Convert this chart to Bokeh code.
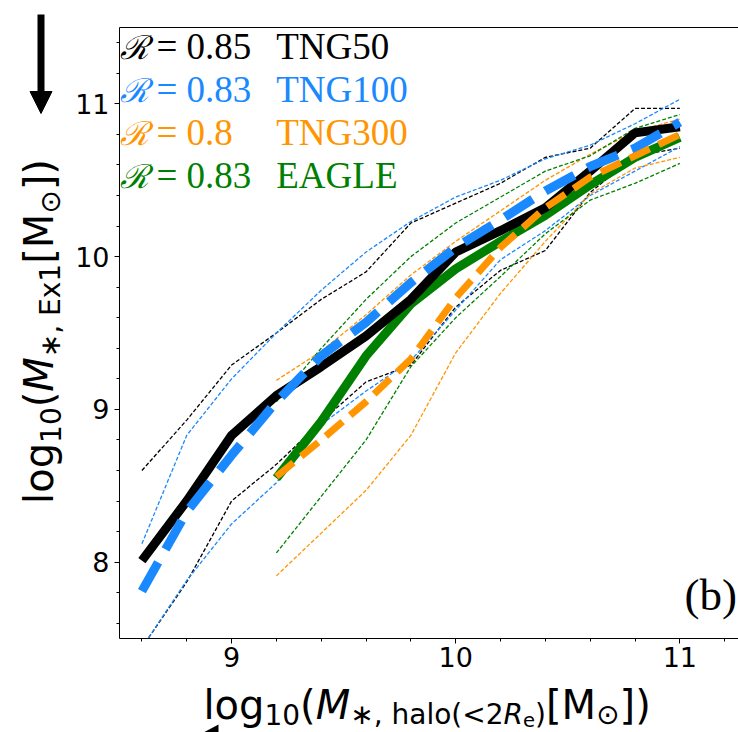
import math
from bokeh.plotting import figure
from bokeh.layouts import row, column
from bokeh.models import (Label, Arrow, NormalHead, LinearAxis, SingleIntervalTicker, FixedTicker,
                          Range1d, PolyAnnotation)
from bokeh.embed import file_html
from bokeh.resources import INLINE
from bokeh.core.properties import value

# ---------------- data ----------------
x_tng = [8.6, 8.8, 9.0, 9.2, 9.4, 9.6, 9.8, 10.0, 10.2, 10.4, 10.6, 10.8, 11.0]
x_hi = [9.2, 9.4, 9.6, 9.8, 10.0, 10.2, 10.4, 10.6, 10.8, 11.0]

tng50_med = [8.01, 8.40, 8.83, 9.09, 9.28, 9.48, 9.72, 10.03, 10.17, 10.32, 10.56, 10.81, 10.85]
tng50_up = [8.60, 8.93, 9.29, 9.50, 9.72, 9.90, 10.22, 10.35, 10.48, 10.65, 10.71, 10.97, 10.97]
tng50_lo = [7.44, 7.87, 8.40, 8.64, 8.92, 9.18, 9.29, 9.67, 9.91, 10.04, 10.42, 10.66, 10.71]

tng100_med = [7.81, 8.33, 8.70, 9.05, 9.35, 9.57, 9.83, 10.06, 10.24, 10.43, 10.59, 10.71, 10.88]
tng100_up = [8.12, 8.83, 9.20, 9.50, 9.78, 10.03, 10.23, 10.39, 10.50, 10.64, 10.73, 10.87, 11.03]
tng100_lo = [7.44, 7.88, 8.25, 8.52, 8.90, 9.12, 9.32, 9.65, 9.98, 10.17, 10.40, 10.56, 10.72]

tng300_med = [8.56, 8.80, 9.05, 9.33, 9.73, 10.06, 10.32, 10.52, 10.66, 10.80]
tng300_up = [9.19, 9.38, 9.62, 9.88, 10.10, 10.30, 10.50, 10.67, 10.82, 10.90]
tng300_lo = [7.91, 8.19, 8.47, 8.83, 9.37, 9.76, 10.10, 10.41, 10.58, 10.65]

eagle_med = [8.55, 8.92, 9.35, 9.69, 9.92, 10.10, 10.27, 10.47, 10.65, 10.78]
eagle_up = [9.05, 9.40, 9.72, 10.00, 10.22, 10.39, 10.56, 10.66, 10.84, 10.93]
eagle_lo = [8.06, 8.43, 8.80, 9.28, 9.60, 9.87, 10.15, 10.37, 10.48, 10.61]

sim_names = ["TNG50", "TNG100", "TNG300", "EAGLE"]
corr_labels = ["0.85", "0.83", "0.8", "0.83"]
sim_colors = ["black", "#1A88FF", "#FF9500", "green"]

# ---------------- layout constants (page px) ----------------
LW = 72            # left strip width
MH = 678           # main/left height
BH = 732 - MH      # bottom strip height
MW = 738 - LW      # main figure width
FRAME_L, FRAME_T, FRAME_B = 118, 27, 638
SX = 224.5
X0 = 8.5
X1 = X0 + (738 - FRAME_L) / SX
Y0, Y1 = 7.5, 11.5
SY = (FRAME_B - FRAME_T) / (Y1 - Y0)
KB = 0.3           # empirical baseline correction (em)

def mx(px):
    return X0 + (px - FRAME_L) / SX

def my(py):
    return Y0 + (FRAME_B - py) / SY

# ---------------- main figure ----------------
p = figure(width=MW, height=MH, x_range=Range1d(X0, X1), y_range=Range1d(Y0, Y1),
           output_backend="svg", toolbar_location=None,
           min_border_left=FRAME_L - LW, min_border_right=0, min_border_top=FRAME_T,
           min_border_bottom=MH - FRAME_B)
p.xgrid.visible = False
p.ygrid.visible = False
p.outline_line_color = None

for ax in (p.xaxis[0], p.yaxis[0]):
    ax.ticker = SingleIntervalTicker(interval=1, num_minor_ticks=5)
    ax.axis_line_color = "black"
    ax.major_tick_in = 0
    ax.major_tick_out = 5
    ax.minor_tick_in = 0
    ax.minor_tick_out = 3
    ax.major_tick_line_color = "black"
    ax.minor_tick_line_color = "black"
    ax.major_label_text_font = "DejaVu Sans"
    ax.major_label_text_font_size = "27px"
    ax.major_label_text_color = "black"
    ax.axis_label = None
p.yaxis[0].major_label_standoff = 5
p.xaxis[0].major_label_standoff = 3

top = LinearAxis(ticker=FixedTicker(ticks=[]), axis_line_color="black",
                 major_tick_line_color=None, minor_tick_line_color=None)
p.add_layout(top, "above")

thin_dash = "4 2"
thin_w = 1.3
bands = [
    (x_tng, tng50_up, tng50_lo, sim_colors[0]),
    (x_tng, tng100_up, tng100_lo, sim_colors[1]),
    (x_hi, tng300_up, tng300_lo, sim_colors[2]),
    (x_hi, eagle_up, eagle_lo, sim_colors[3]),
]
for xs, up, lo, c in bands:
    p.line(xs, up, line_color=c, line_width=thin_w, line_dash=thin_dash)
    p.line(xs, lo, line_color=c, line_width=thin_w, line_dash=thin_dash)

p.line(x_hi, eagle_med, line_color=sim_colors[3], line_width=9)
p.line(x_tng, tng50_med, line_color=sim_colors[0], line_width=9)
p.line(x_tng, tng100_med, line_color=sim_colors[1], line_width=9, line_dash="33 15")
p.line(x_hi, tng300_med, line_color=sim_colors[2], line_width=7, line_dash="22 10")

p.text(x=[mx(684)], y=[my(608 - KB * 45)], text=["(b)"], text_font=value("Liberation Serif"),
       text_font_size="45px", text_color="black", text_baseline="alphabetic", text_align="left")

baselines = [57, 100, 143, 186]
LEG = 37
for name, r, c, b in zip(sim_names, corr_labels, sim_colors, baselines):
    p.add_layout(Label(x=mx(119), y=my(b - KB * 33), text="\u211B", text_font="DejaVu Serif",
                       text_font_style="italic", text_font_size="33px", text_color=c,
                       text_baseline="alphabetic", text_align="left"))
    p.add_layout(Label(x=mx(155), y=my(b - KB * LEG), text="= " + r, text_font="Liberation Serif",
                       text_font_size=f"{LEG}px", text_color=c,
                       text_baseline="alphabetic", text_align="left"))
    p.add_layout(Label(x=mx(275), y=my(b - KB * LEG), text=name, text_font="Liberation Serif",
                       text_font_size=f"{LEG}px", text_color=c,
                       text_baseline="alphabetic", text_align="left"))

# ---------------- helper strips ----------------
def strip(w, h):
    f = figure(width=w, height=h, x_range=Range1d(0, w), y_range=Range1d(0, h),
               output_backend="svg", toolbar_location=None, min_border=0,
               x_axis_location=None, y_axis_location=None)
    f.xgrid.visible = False
    f.ygrid.visible = False
    f.outline_line_color = None
    return f

left = strip(LW, MH)
bottom = strip(738, BH)

S = 40.0
SUB = 0.7 * S
SSUB = 0.7 * SUB
W_EM = {"l": .278, "o": .612, "g": .635, "1": .636, "0": .636, "2": .636, "(": .390, ")": .390,
        "M": .863, "\u2217": .838, ",": .318, " ": .318, "E": .632, "x": .592, "[": .390,
        "]": .390, "\u2299": .838, "h": .634, "a": .613, "<": .838, "R": .695, "e": .615}

def width(t, size):
    return sum(W_EM.get(ch, .6) for ch in t) * size

xlab = [("log", S, False, 0), ("10", SUB, False, 6), ("(", S, False, 0), ("M", S, True, 0),
        ("\u2217, halo(<2", SUB, False, 6), ("R", SUB, True, 6), ("e", SSUB, False, 9),
        (")", SUB, False, 6), ("[M", S, False, 0), ("\u2299", SUB, False, 6), ("])", S, False, 0)]
ylab = [("log", S, False, 0), ("10", SUB, False, 8), ("(", S, False, 0), ("M", S, True, 0),
        ("\u2217, Ex1", SUB, False, 8), ("[M", S, False, 0), ("\u2299", SUB, False, 8),
        ("])", S, False, 0)]

# x title in bottom strip (local y = 732 - page y)
cx = 203.0
base_y = 716.0
for t, s, it, sh in xlab:
    bottom.add_layout(Label(x=cx, y=732 - (base_y + sh - KB * s), text=t, text_font="DejaVu Sans",
                            text_font_style="italic" if it else "normal", text_font_size=f"{s:.1f}px",
                            text_color="black", text_baseline="alphabetic", text_align="left"))
    cx += width(t, s)

bottom.add_layout(PolyAnnotation(xs=[203, 218, 218], ys=[0, 8, 0], fill_color="black",
                                 fill_alpha=1, line_color=None))

# y title in left strip (local y = MH - page y)
ytot = sum(width(t, s) for t, s, _, _ in ylab)
cy = 331.0 + ytot / 2
base_x = 50.0
for t, s, it, sh in ylab:
    left.add_layout(Label(x=base_x + sh - KB * s, y=MH - cy, text=t, text_font="DejaVu Sans",
                          angle=math.pi / 2,
                          text_font_style="italic" if it else "normal", text_font_size=f"{s:.1f}px",
                          text_color="black", text_baseline="alphabetic", text_align="left"))
    cy -= width(t, s)

left.add_layout(Arrow(x_start=40.5, y_start=MH - 14, x_end=40.5, y_end=MH - 113,
                      line_width=7, line_color="black",
                      end=NormalHead(size=22, fill_color="black", line_color="black", line_width=1)))

layout = column(row(column(left, spacing=0), p, spacing=0), bottom, spacing=0)
open("out.html", "w").write(file_html(layout, INLINE))
